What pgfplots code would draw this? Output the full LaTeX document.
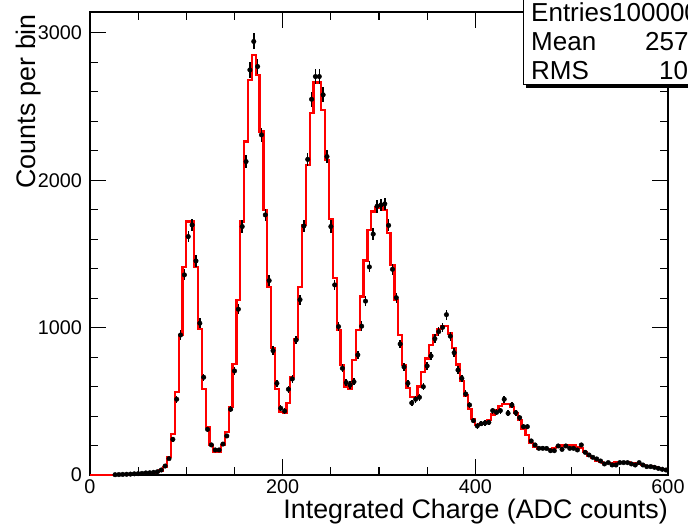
\documentclass[border=0pt]{standalone}
\usepackage{fontspec}
\setmainfont{Liberation Sans}
\usepackage{pgfplots}
\usepackage{pgfplotstable}
\pgfplotsset{compat=1.18}

% fit histogram: left bin edge, content
\pgfplotstableread{
x y
0 0
4 0
8 0
12 0
16 0
20 0
24 1
28 2
32 3
36 4
40 5
44 6
48 8
52 9
56 11
60 13
64 16
68 20
72 30
76 55
80 124
84 278
88 561
92 950
96 1410
100 1720
104 1720
108 1414
112 989
116 582
120 324
124 204
128 158
132 158
136 204
140 294
144 464
148 751
152 1188
156 1720
160 2263
164 2682
168 2851
172 2715
176 2331
180 1799
184 1274
188 860
192 582
196 430
200 419
204 491
208 667
212 921
216 1274
220 1697
224 2105
228 2455
232 2664
236 2664
240 2478
244 2139
248 1736
252 1335
256 984
260 747
264 600
268 585
272 781
276 984
280 1211
284 1455
288 1663
292 1788
296 1815
300 1822
304 1800
308 1641
312 1426
316 1188
320 950
324 747
328 589
332 532
336 532
340 600
344 700
348 790
352 880
356 950
360 990
364 1010
368 1010
372 960
376 860
380 750
384 640
388 540
392 450
396 380
400 340
404 345
408 351
412 375
416 410
420 441
424 468
428 482
432 482
436 464
440 419
444 373
448 310
452 271
456 219
460 192
464 176
468 174
472 174
476 174
480 181
484 190
488 200
492 204
496 204
500 200
504 192
508 181
512 158
516 129
520 113
524 97
528 86
532 79
536 79
540 80
544 85
548 90
552 90
556 86
560 82
564 78
568 75
572 68
576 62
580 58
584 52
588 46
592 42
596 37
600 37
}\fitdata

% data points: bin centre, counts
\pgfplotstableread{
x y
26 2
30 3
34 4
38 5
42 6
46 8
50 9
54 11
58 14
62 15
66 18
70 22
74 34
78 61
82 111
86 242
90 514
94 950
98 1358
102 1618
106 1697
110 1453
114 1030
118 663
122 310
126 204
130 170
134 170
138 210
142 265
146 446
150 706
154 1125
158 1686
162 2127
166 2749
170 2942
174 2772
178 2308
182 1765
186 1319
190 844
194 622
198 453
202 434
206 582
210 652
214 916
218 1190
222 1690
226 2142
230 2550
234 2704
238 2704
242 2580
246 2161
250 1686
254 1290
258 1007
262 724
266 627
270 611
274 633
278 815
282 1010
286 1180
290 1412
294 1635
298 1824
302 1833
306 1840
310 1694
314 1396
318 1203
322 889
326 733
330 622
334 489
338 514
342 527
346 599
350 740
354 808
358 925
362 973
366 1002
370 1088
374 942
378 830
382 712
386 656
390 550
394 475
398 369
402 333
406 348
410 353
414 357
418 437
422 425
426 437
430 514
434 419
438 475
442 423
446 389
450 328
454 328
458 231
462 204
466 181
470 181
474 180
478 165
482 165
486 197
490 174
494 197
498 181
502 181
506 170
510 204
514 154
518 136
522 120
526 109
530 95
534 75
538 84
542 68
546 68
550 84
554 84
558 84
562 75
566 68
570 84
574 68
578 57
582 57
586 52
590 45
594 39
598 34
}\pointdata

\begin{document}
\begin{tikzpicture}
\begin{axis}[
  name=ax, at={(0,0)}, anchor=south west,
  scale only axis, width=578bp, height=463bp,
  xmin=0, xmax=600, ymin=0, ymax=3142,
  xtick={0,200,400,600}, ytick={0,1000,2000,3000},
  minor x tick num=3, minor y tick num=4,
  tick align=inside, tick pos=both,
  major tick length=16bp, minor tick length=8bp,
  axis line style={line width=1.5bp},
  every tick/.style={black, line width=1.1bp},
  /pgf/number format/assume math mode=true,
  /pgf/number format/set thousands separator={},
  ticklabel style={font=\fontsize{19.8bp}{22bp}\selectfont},
  xticklabel style={anchor=base, inner sep=0pt, yshift=-19bp},
  yticklabel style={anchor=east, inner sep=0pt, xshift=-8bp},
  xlabel={Integrated Charge (ADC counts)},
  ylabel={Counts per bin},
  label style={font=\fontsize{26.8bp}{30bp}\selectfont},
  xlabel style={at={(axis description cs:1,0)}, anchor=base east, inner sep=0pt, yshift=-43bp},
  ylabel style={at={([xshift=-54bp,yshift=-2bp]axis description cs:0,1)}, anchor=base east, inner sep=0pt},
  clip=false,
]
\addplot[const plot, draw=red, line width=2.2bp, line join=miter] table[x=x, y=y] {\fitdata};
\addplot[only marks, mark=*, mark size=2.3bp, black,
  error bars/.cd, y dir=both, y explicit, error mark=none,
  error bar style={line width=1.5bp, black}]
  table[x=x, y=y, y error expr={sqrt(\thisrow{y})}] {\pointdata};
\end{axis}
% stats box
\fill[black] (436bp,387bp) rectangle (640bp,490bp);
\filldraw[fill=white, draw=black, line width=1bp] (433bp,390bp) rectangle (640bp,490bp);
\begin{scope}[every node/.style={inner sep=0pt, font=\fontsize{26bp}{28bp}\selectfont}]
\node[anchor=base west] at (441bp,453bp) {Entries};
\node[anchor=base west] at (522bp,453bp) {100000};
\node[anchor=base west] at (441bp,424bp) {Mean};
\node[anchor=base west] at (555bp,424bp) {257.3};
\node[anchor=base west] at (441bp,395bp) {RMS};
\node[anchor=base west] at (569bp,395bp) {104.5};
\end{scope}
\pgfresetboundingbox
\useasboundingbox (-90bp,-49bp) rectangle (598bp,475bp);
\end{tikzpicture}
\end{document}
